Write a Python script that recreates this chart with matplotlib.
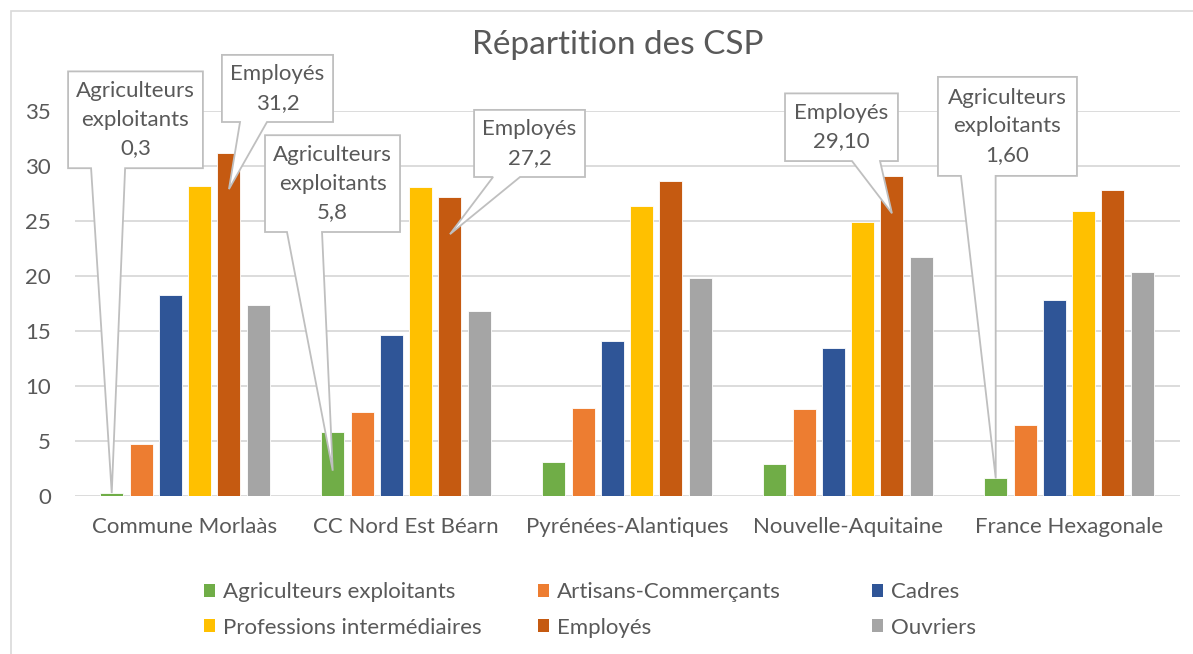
import matplotlib
matplotlib.use("Agg")
import matplotlib.pyplot as plt
from matplotlib.patches import Polygon, Rectangle, Patch
import numpy as np

# ---------------- data ----------------
categories = ["Commune Morlaàs", "CC Nord Est Béarn", "Pyrénées-Alantiques",
              "Nouvelle-Aquitaine", "France Hexagonale"]
series_names = ["Agriculteurs exploitants", "Artisans-Commerçants", "Cadres",
                "Professions intermédiaires", "Employés", "Ouvriers"]
agriculteurs = [0.3, 5.8, 3.1, 2.9, 1.6]
artisans = [4.7, 7.6, 8.0, 7.9, 6.5]
cadres = [18.3, 14.6, 14.1, 13.5, 17.8]
professions = [28.2, 28.1, 26.4, 24.9, 25.9]
employes = [31.2, 27.2, 28.6, 29.1, 27.8]
ouvriers = [17.4, 16.8, 19.8, 21.7, 20.4]
series_values = [agriculteurs, artisans, cadres, professions, employes, ouvriers]
colors = ["#70AD47", "#ED7D31", "#2F5597", "#FFC000", "#C55A11", "#A5A5A5"]
yticks = [0, 5, 10, 15, 20, 25, 30, 35]
title = "Répartition des CSP"

# callouts: (series idx, category idx, decimals, box x0, x1, y0, y1, wedge xa, xb, tip y)
callouts = [
    (0, 0, 1, -0.529, 0.081, 29.8, 38.6, -0.425, -0.271, 0.27),
    (4, 0, 1, 0.167, 0.670, 34.0, 40.1, 0.249, 0.371, 27.9),
    (0, 1, 1, 0.362, 0.973, 24.0, 32.8, 0.4615, 0.620, 2.3),
    (4, 1, 1, 1.308, 1.810, 29.0, 35.1, 1.394, 1.516, 23.8),
    (4, 3, 2, 2.715, 3.226, 30.45, 36.6, 3.018, 3.145, 25.7),
    (0, 4, 2, 3.407, 4.036, 29.1, 38.1, 3.511, 3.668, 1.6),
]

FONT = "Lato"
TXT = "#595959"
GRID = "#D9D9D9"
FS = 16

W, H = 1193, 654
fig = plt.figure(figsize=(W / 100, H / 100), dpi=100)
fig.patch.set_facecolor("white")

# chart border
fig.add_artist(Rectangle((10.5 / W, -0.05), 1.2, (H - 10.5) / H + 0.05,
                         transform=fig.transFigure, fill=False,
                         edgecolor=GRID, linewidth=1.2))

left, right = 74.5 / W, 1179.5 / W
bottom, top = (H - 496) / H, (H - 111) / H
ax = fig.add_axes([left, bottom, right - left, top - bottom])

pitch = 0.1326
width = 0.104
x = np.arange(len(categories))
for j, (name, vals, c) in enumerate(zip(series_names, series_values, colors)):
    ax.bar(x + (j - 2.5) * pitch, vals, width=width, color=c, label=name,
           edgecolor="white", linewidth=0.6, zorder=3)

ax.set_xlim(-0.5, len(categories) - 0.5)
ax.set_ylim(0, 35)
ax.set_yticks(yticks)
ax.set_yticklabels([str(t) for t in yticks])
ax.set_xticks(x)
ax.set_xticklabels(categories)
for s in ax.spines.values():
    s.set_visible(False)
ax.yaxis.grid(True, color=GRID, linewidth=1.3)
ax.set_axisbelow(True)
ax.tick_params(axis="both", length=0, labelsize=FS, labelcolor=TXT)
ax.tick_params(axis="x", pad=15)
ax.tick_params(axis="y", pad=17)
for lab in ax.get_xticklabels() + ax.get_yticklabels():
    lab.set_fontfamily(FONT)

# callouts
for si, ci, dec, x0, x1, y0, y1, xa, xb, ty in callouts:
    tx = ci + (si - 2.5) * pitch
    poly = Polygon([(x0, y1), (x1, y1), (x1, y0), (xb, y0), (tx, ty),
                    (xa, y0), (x0, y0)], closed=True, facecolor="white",
                   edgecolor="#BFBFBF", linewidth=1.3, clip_on=False, zorder=6)
    ax.add_patch(poly)
    val = series_values[si][ci]
    sval = f"{val:.{dec}f}".replace(".", ",")
    label = series_names[si].replace(" ", "\n") + "\n" + sval
    ax.text((x0 + x1) / 2, (y0 + y1) / 2, label, ha="center", va="center",
            fontsize=FS, color=TXT, family=FONT, linespacing=1.52,
            zorder=7, clip_on=False)

# title
fig.text(618 / W, 1 - 45 / H, title, ha="center", va="center",
         fontsize=24, color=TXT, family=FONT)

# legend: three equally spaced columns like the original
col_x = [204, 538, 872]
order = [[0, 3], [1, 4], [2, 5]]
for cx, idxs in zip(col_x, order):
    handles = [Patch(facecolor=colors[i], edgecolor="none") for i in idxs]
    labels = [series_names[i] for i in idxs]
    fig.legend(handles, labels, loc="center left",
               bbox_to_anchor=(cx / W, 1 - 610 / H),
               frameon=False, handlelength=0.5,
               handleheight=0.5, handletextpad=0.35, labelspacing=0.68,
               borderpad=0, borderaxespad=0, labelcolor=TXT,
               prop={"family": FONT, "size": FS})

fig.savefig("out.png", dpi=100, facecolor="white")
